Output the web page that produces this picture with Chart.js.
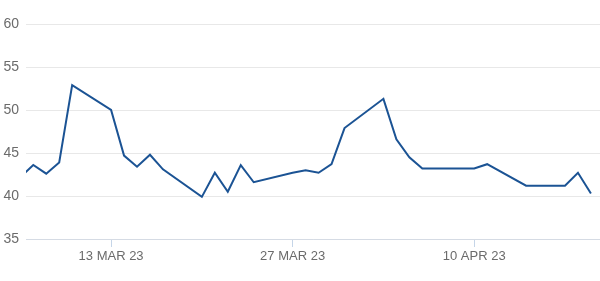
<!DOCTYPE html>
<html>
<head>
<meta charset="utf-8">
<script src="https://cdn.jsdelivr.net/npm/chart.js@4/dist/chart.umd.min.js"></script>
<style>
  html, body { margin: 0; padding: 0; background: #ffffff; }
  #wrap { position: relative; width: 600px; height: 281px; }
</style>
</head>
<body>
<div id="wrap"><canvas id="c" width="600" height="281"></canvas></div>
<script>
// ---- data ----
const dates = [
  '2023-03-06','2023-03-07','2023-03-08','2023-03-09','2023-03-10',
  '2023-03-13','2023-03-14','2023-03-15','2023-03-16','2023-03-17',
  '2023-03-20','2023-03-21','2023-03-22','2023-03-23','2023-03-24',
  '2023-03-27','2023-03-28','2023-03-29','2023-03-30','2023-03-31',
  '2023-04-03','2023-04-04','2023-04-05','2023-04-06',
  '2023-04-10','2023-04-11','2023-04-14',
  '2023-04-17','2023-04-18','2023-04-19'
];
const values = [
  42.2, 43.6, 42.6, 43.9, 52.9,
  50.0, 44.7, 43.4, 44.8, 43.1,
  39.9, 42.7, 40.5, 43.6, 41.6,
  42.7, 43.0, 42.7, 43.7, 47.9,
  51.3, 46.6, 44.5, 43.2,
  43.2, 43.7, 41.2,
  41.2, 42.7, 40.3
];
const tickDates = ['2023-03-13', '2023-03-27', '2023-04-10'];
const tickLabels = ['13 MAR 23', '27 MAR 23', '10 APR 23'];
const yTicks = [35, 40, 45, 50, 55, 60];
const xStartDate = '2023-03-06';
const xEndDate = '2023-04-19';

// ---- helpers ----
const dayNum = s => Date.UTC(+s.slice(0,4), +s.slice(5,7) - 1, +s.slice(8,10)) / 86400000;
const points = dates.map((d, i) => ({ x: dayNum(d), y: values[i] }));
const tickVals = tickDates.map(dayNum);

Chart.defaults.font.family = "'Liberation Sans', Arial, sans-serif";
Chart.defaults.font.size = 13;
Chart.defaults.color = '#6b6b6b';

new Chart(document.getElementById('c'), {
  type: 'line',
  data: {
    datasets: [{
      data: points,
      borderColor: '#1b5394',
      borderWidth: 2,
      pointRadius: 0,
      tension: 0,
      fill: false
    }]
  },
  options: {
    responsive: false,
    animation: false,
    events: [],
    layout: { padding: { top: 24, right: 0, left: 0, bottom: 0 } },
    plugins: { legend: { display: false }, tooltip: { enabled: false } },
    scales: {
      x: {
        type: 'linear',
        min: dayNum(xStartDate) + 0.44,
        max: dayNum(xEndDate) + 0.7,
        afterBuildTicks: s => { s.ticks = tickVals.map(v => ({ value: v })); },
        afterFit: s => { s.height = 42; },
        ticks: {
          autoSkip: false,
          maxRotation: 0,
          padding: 2,
          color: '#6b6b6b',
          font: { size: 13 },
          callback: (v) => tickLabels[tickVals.indexOf(v)]
        },
        grid: {
          drawOnChartArea: false,
          drawTicks: true,
          tickLength: 8,
          color: '#c5d5e8'
        },
        border: { display: true, color: '#d5dbe4', width: 1 }
      },
      y: {
        min: 35,
        max: 60,
        afterBuildTicks: s => { s.ticks = yTicks.map(v => ({ value: v })); },
        afterFit: s => { s.width = 26; },
        ticks: {
          padding: 7,
          color: '#6b6b6b',
          font: { size: 14 }
        },
        grid: {
          drawTicks: false,
          color: '#e8e8e8',
          lineWidth: 1
        },
        border: { display: false }
      }
    }
  }
});
</script>
</body>
</html>
